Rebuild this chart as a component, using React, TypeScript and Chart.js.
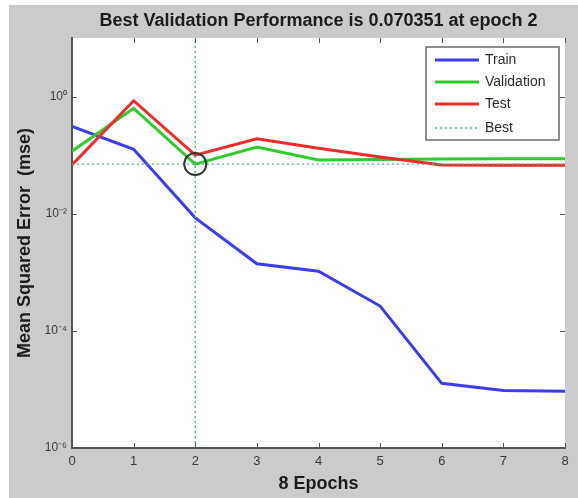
import React, { useEffect, useRef } from "react";
import { Chart, registerables } from "chart.js";

Chart.register(...registerables);

// ---- data ----
const epochs = [0, 1, 2, 3, 4, 5, 6, 7, 8];
const trainPerf = [0.31, 0.126, 0.0085, 0.0014, 0.00104, 0.000265, 1.27e-5, 9.6e-6, 9.3e-6];
const valPerf = [0.117, 0.63, 0.070351, 0.137, 0.083, 0.084, 0.086, 0.087, 0.087];
const testPerf = [0.068, 0.85, 0.1, 0.19, 0.131, 0.093, 0.068, 0.067, 0.067];
const bestEpoch = 2;
const bestPerf = 0.070351;
const yMin = 1e-6;
const yMax = 10;
const yTickValues = [1e-6, 1e-4, 1e-2, 1];
const yTickLabels = ["10\u207B\u2076", "10\u207B\u2074", "10\u207B\u00B2", "10\u2070"];
const xTickLabels = ["0", "1", "2", "3", "4", "5", "6", "7", "8"];
const titleText = "Best Validation Performance is 0.070351 at epoch 2";
const xTitleText = "8 Epochs";
const yTitleText = "Mean Squared Error  (mse)";
const legendLabels = ["Train", "Validation", "Test", "Best"];

const FONT = '"Liberation Sans", Arial, Helvetica, sans-serif';
const BLUE = "#3c3cee";
const GREEN = "#2ccc2c";
const RED = "#ee2a2a";
const BEST = "rgba(70,175,150,0.95)";
const AXIS = "#555555";

const bgPlugin = {
  id: "plotBg",
  beforeDraw(chart: any) {
    const { ctx, chartArea } = chart;
    ctx.save();
    ctx.fillStyle = "#ffffff";
    ctx.fillRect(chartArea.left, chartArea.top, chartArea.right - chartArea.left, chartArea.bottom - chartArea.top);
    ctx.restore();
  },
};

const innerTicksPlugin = {
  id: "innerTicks",
  afterDraw(chart: any) {
    const { ctx, chartArea, scales } = chart;
    const len = 5;
    ctx.save();
    ctx.strokeStyle = AXIS;
    ctx.lineWidth = 1;
    ctx.beginPath();
    epochs.forEach((e) => {
      const px = Math.round(scales.x.getPixelForValue(e)) + 0.5;
      ctx.moveTo(px, chartArea.bottom);
      ctx.lineTo(px, chartArea.bottom - len);
      ctx.moveTo(px, chartArea.top);
      ctx.lineTo(px, chartArea.top + len);
    });
    yTickValues.forEach((v) => {
      const py = Math.round(scales.y.getPixelForValue(v)) + 0.5;
      ctx.moveTo(chartArea.left, py);
      ctx.lineTo(chartArea.left + len, py);
      ctx.moveTo(chartArea.right, py);
      ctx.lineTo(chartArea.right - len, py);
    });
    ctx.stroke();
    ctx.restore();
  },
};

const legendPlugin = {
  id: "boxLegend",
  afterDraw(chart: any) {
    const { ctx, chartArea } = chart;
    const w = 133;
    const h = 93;
    const right = chartArea.right - 6;
    const left = right - w;
    const top = chartArea.top + 9;
    ctx.save();
    ctx.fillStyle = "#ffffff";
    ctx.fillRect(left, top, w, h);
    ctx.strokeStyle = "#6a6a6a";
    ctx.lineWidth = 1.5;
    ctx.strokeRect(left, top, w, h);
    const rows = [13, 35, 57, 81];
    const colors = [BLUE, GREEN, RED, BEST];
    ctx.font = `14px ${FONT}`;
    ctx.textBaseline = "middle";
    ctx.textAlign = "left";
    legendLabels.forEach((lab, i) => {
      const y = top + rows[i];
      ctx.beginPath();
      ctx.strokeStyle = colors[i];
      ctx.lineWidth = i === 3 ? 1.5 : 3;
      ctx.setLineDash(i === 3 ? [2, 3] : []);
      ctx.moveTo(left + 9, y);
      ctx.lineTo(left + 53, y);
      ctx.stroke();
      ctx.setLineDash([]);
      ctx.fillStyle = "#2a2a2a";
      ctx.fillText(lab, left + 59, y);
    });
    ctx.restore();
  },
};

export default function App() {
  const ref = useRef<HTMLCanvasElement | null>(null);

  useEffect(() => {
    if (!ref.current) return;
    const toXY = (arr: number[]) => epochs.map((e, i) => ({ x: e, y: arr[i] }));
    const chart = new Chart(ref.current, {
      type: "line",
      data: {
        datasets: [
          {
            label: "BestPoint",
            data: [{ x: bestEpoch, y: bestPerf }],
            showLine: false,
            pointRadius: 11,
            pointStyle: "circle",
            pointBackgroundColor: "rgba(0,0,0,0)",
            pointBorderColor: "#2c3a2c",
            pointBorderWidth: 2,
            order: 0,
          },
          {
            label: "BestH",
            data: [
              { x: epochs[0], y: bestPerf },
              { x: epochs[epochs.length - 1], y: bestPerf },
            ],
            borderColor: BEST,
            borderWidth: 1.4,
            borderDash: [2, 3],
            pointRadius: 0,
            order: 1,
          },
          {
            label: "BestV",
            data: [
              { x: bestEpoch, y: yMin },
              { x: bestEpoch, y: yMax },
            ],
            borderColor: BEST,
            borderWidth: 1.4,
            borderDash: [2, 3],
            pointRadius: 0,
            order: 2,
          },
          {
            label: "Test",
            data: toXY(testPerf),
            borderColor: RED,
            borderWidth: 3,
            pointRadius: 0,
            tension: 0,
            order: 3,
          },
          {
            label: "Validation",
            data: toXY(valPerf),
            borderColor: GREEN,
            borderWidth: 3,
            pointRadius: 0,
            tension: 0,
            order: 4,
          },
          {
            label: "Train",
            data: toXY(trainPerf),
            borderColor: BLUE,
            borderWidth: 3,
            pointRadius: 0,
            tension: 0,
            order: 5,
          },
        ],
      },
      options: {
        responsive: false,
        animation: false,
        devicePixelRatio: 1,
        layout: { padding: { left: 9, right: 10, top: 0, bottom: 0 } },
        plugins: {
          legend: { display: false },
          tooltip: { enabled: false },
          title: {
            display: true,
            text: titleText,
            fullSize: false,
            color: "#1c1c1c",
            font: { family: FONT, size: 18, weight: "bold" },
            padding: { top: 10, bottom: 6.4 },
          },
        },
        scales: {
          x: {
            type: "linear",
            min: 0,
            max: 8,
            afterBuildTicks: (scale: any) => {
              scale.ticks = epochs.map((e) => ({ value: e }));
            },
            afterFit: (scale: any) => {
              scale.height = 50;
            },
            ticks: {
              color: "#3a3a3a",
              font: { family: FONT, size: 13 },
              padding: 6,
              maxRotation: 0,
              callback: (v: any) => {
                const i = epochs.indexOf(Number(v));
                return i >= 0 ? xTickLabels[i] : "";
              },
            },
            grid: { display: true, drawOnChartArea: false, drawTicks: false },
            border: { display: true, color: AXIS, width: 2 },
            title: {
              display: true,
              text: xTitleText,
              color: "#1c1c1c",
              font: { family: FONT, size: 18, weight: "bold" },
              padding: { top: 0, bottom: 3 },
            },
          },
          y: {
            type: "logarithmic",
            min: yMin,
            max: yMax,
            afterBuildTicks: (scale: any) => {
              scale.ticks = yTickValues.map((v) => ({ value: v }));
            },
            afterFit: (scale: any) => {
              scale.width = 63;
            },
            ticks: {
              color: "#3a3a3a",
              font: { family: FONT, size: 12 },
              padding: 5,
              callback: (v: any) => {
                const n = Number(v);
                const i = yTickValues.findIndex((t) => Math.abs(Math.log10(t) - Math.log10(n)) < 1e-6);
                return i >= 0 ? yTickLabels[i] : "";
              },
            },
            grid: { display: true, drawOnChartArea: false, drawTicks: false },
            border: { display: true, color: AXIS, width: 2 },
            title: {
              display: true,
              text: yTitleText,
              color: "#1c1c1c",
              font: { family: FONT, size: 18, weight: "bold" },
              padding: { top: 5, bottom: 0 },
            },
          },
        },
      },
      plugins: [bgPlugin, innerTicksPlugin, legendPlugin],
    } as any);
    return () => chart.destroy();
  }, []);

  return (
    <div style={{ position: "fixed", left: 0, top: 0, width: 578, height: 498, background: "#ffffff", overflow: "hidden" }}>
      <div style={{ position: "absolute", left: 9, top: 5, right: 0, bottom: 0, background: "#cbcbcb" }} />
      <canvas ref={ref} width={578} height={498} style={{ position: "absolute", left: 0, top: 0, width: 578, height: 498 }} />
    </div>
  );
}
